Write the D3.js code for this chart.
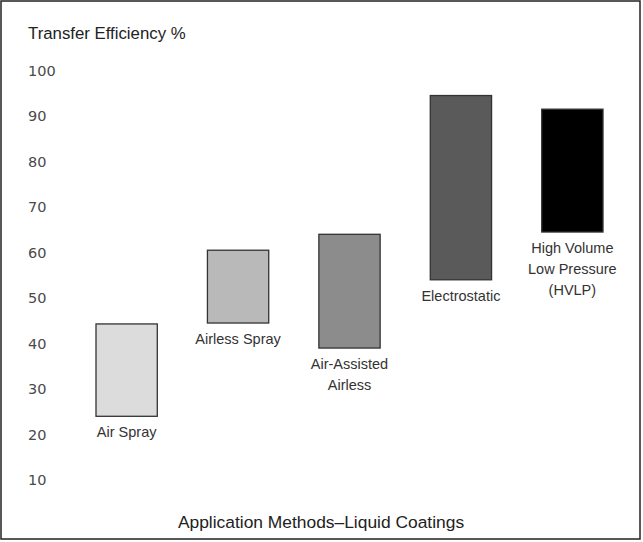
<!DOCTYPE html>
<html><head><meta charset="utf-8">
<script src="https://cdn.jsdelivr.net/npm/d3@7"></script>
<style>
html,body{margin:0;padding:0;background:#fff;}
svg{display:block;}
</style>
</head><body>
<svg id="chart" width="643" height="542"></svg>
<script>
// Data
const categories = ["Air Spray", "Airless Spray", "Air-Assisted Airless", "Electrostatic", "High Volume Low Pressure (HVLP)"];
const labelLines = [["Air Spray"], ["Airless Spray"], ["Air-Assisted", "Airless"], ["Electrostatic"], ["High Volume", "Low Pressure", "(HVLP)"]];
const lowValues = [24, 44.5, 39, 54, 64.5];
const highValues = [44.3, 60.5, 64, 94.5, 91.5];
const fills = ["#dcdcdc", "#b9b9b9", "#8c8c8c", "#5a5a5a", "#000000"];
const yTicks = [100, 90, 80, 70, 60, 50, 40, 30, 20, 10];
const yTitle = "Transfer Efficiency %";
const xTitle = "Application Methods\u2013Liquid Coatings";

const svg = d3.select("#chart");
const font = "'Liberation Sans', Arial, sans-serif";

// frame
svg.append("rect").attr("x", 1).attr("y", 1).attr("width", 639).attr("height", 538)
  .attr("fill", "#fff").attr("stroke", "#222").attr("stroke-width", 1.5);

const x = d3.scaleBand().domain(categories).range([96, 603]).paddingInner(0.45).paddingOuter(0);
const y = d3.scaleLinear().domain([10, 100]).range([480, 70.5]);

// y axis
const ax = svg.append("g").attr("transform", "translate(28,0)")
  .call(d3.axisLeft(y).tickValues(yTicks).tickSize(0).tickPadding(0));
ax.select(".domain").remove();
ax.selectAll("text").attr("x", 0).attr("text-anchor", "start")
  .attr("font-family", "'DejaVu Sans', sans-serif").attr("font-size", 14.5)
  .attr("fill", "#4a4a4a");

// title
svg.append("text").attr("x", 28).attr("y", 39).text(yTitle)
  .attr("font-family", font).attr("font-size", 16.8).attr("fill", "#222");

// bars
const data = categories.map((c, i) => ({c, lo: lowValues[i], hi: highValues[i], fill: fills[i], lines: labelLines[i]}));
svg.append("g").selectAll("rect").data(data).join("rect")
  .attr("x", d => x(d.c)).attr("width", x.bandwidth())
  .attr("y", d => y(d.hi)).attr("height", d => y(d.lo) - y(d.hi))
  .attr("fill", d => d.fill).attr("stroke", "#333").attr("stroke-width", 1.3);

// bar labels
const lg = svg.append("g").selectAll("text").data(data).join("text")
  .attr("x", d => x(d.c) + x.bandwidth() / 2)
  .attr("y", d => y(d.lo) + 21)
  .attr("text-anchor", "middle")
  .attr("font-family", font).attr("font-size", 14.5).attr("fill", "#333");
lg.selectAll("tspan").data(d => d.lines).join("tspan")
  .attr("x", function() { return d3.select(this.parentNode).attr("x"); })
  .attr("dy", (d, i) => i === 0 ? 0 : 21)
  .text(d => d);

// x title
svg.append("text").attr("x", 321).attr("y", 528).attr("text-anchor", "middle")
  .text(xTitle).attr("font-family", font).attr("font-size", 17.4).attr("fill", "#222");
</script>
</body></html>
